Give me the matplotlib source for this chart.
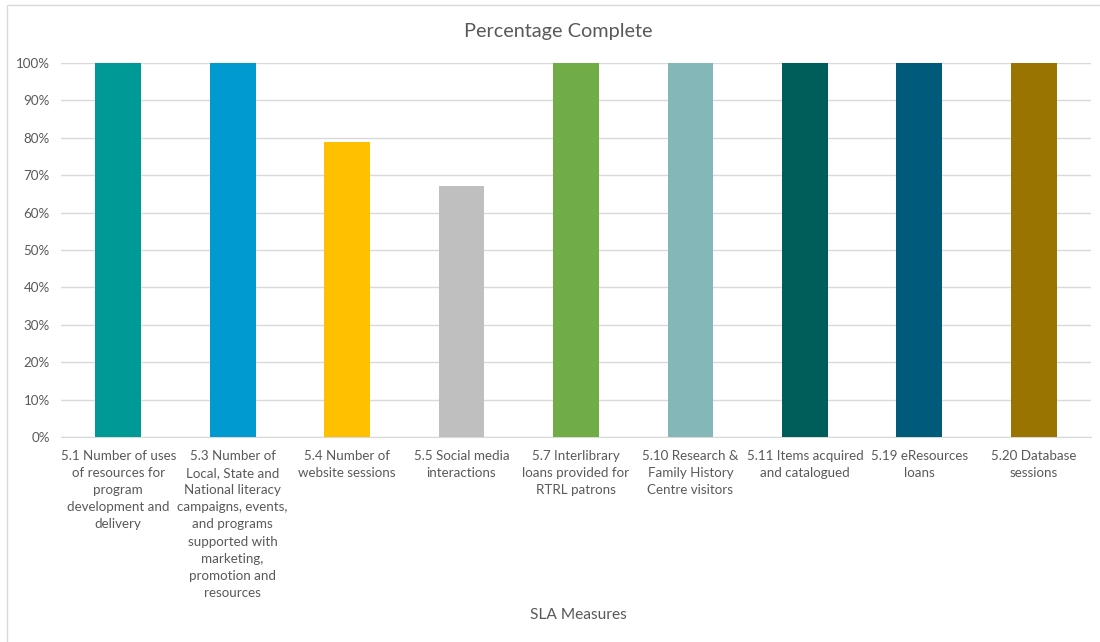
import matplotlib.pyplot as plt
import matplotlib.patches as mpatches
from matplotlib.ticker import PercentFormatter

# SLA measures and percentage complete
labels = [
    "5.1 Number of uses\nof resources for\nprogram\ndevelopment and\ndelivery",
    "5.3 Number of\nLocal, State and\nNational literacy\ncampaigns, events,\nand programs\nsupported with\nmarketing,\npromotion and\nresources",
    "5.4 Number of\nwebsite sessions",
    "5.5 Social media\ninteractions",
    "5.7 Interlibrary\nloans provided for\nRTRL patrons",
    "5.10 Research &\nFamily History\nCentre visitors",
    "5.11 Items acquired\nand catalogued",
    "5.19 eResources\nloans",
    "5.20 Database\nsessions",
]
values = [1.00, 1.00, 0.79, 0.67, 1.00, 1.00, 1.00, 1.00, 1.00]
colors = ["#009a96", "#009ad0", "#ffc000", "#bfbfbf", "#70ad47",
          "#84b8b8", "#005e5a", "#005a7a", "#9a7400"]

plt.rcParams['font.family'] = ['Lato', 'DejaVu Sans']
txt = '#595959'

fig = plt.figure(figsize=(11, 6.42), dpi=100)
ax = fig.add_axes([61/1100, 1-437/642, 1030/1100, 374/642])

# light frame around the chart
fig.patches.append(mpatches.Rectangle((7/1100, -0.01), 1.0, 1-5/642+0.01,
                                      transform=fig.transFigure, fill=False,
                                      edgecolor='#d9d9d9', linewidth=1))

x = range(len(values))
ax.bar(x, values, width=0.4, color=colors, zorder=3)
ax.set_xlim(-0.5, len(values) - 0.5)
ax.set_ylim(0, 1.0)
ax.set_yticks([i / 10 for i in range(11)])
ax.yaxis.set_major_formatter(PercentFormatter(1.0, decimals=0))
ax.grid(axis='y', color='#d9d9d9', linewidth=1, zorder=0)
ax.set_xticks(list(x))
ax.set_xticklabels(labels, fontsize=9.6, color=txt, linespacing=1.52, va='top')
ax.tick_params(axis='both', length=0, colors=txt, labelsize=9.6)
ax.tick_params(axis='x', pad=9)
ax.tick_params(axis='y', pad=8)
for s in ax.spines.values():
    s.set_visible(False)
ax.spines['bottom'].set_visible(True)
ax.spines['bottom'].set_color('#d9d9d9')

fig.text(558/1100, 1-32/642, 'Percentage Complete', ha='center', va='center',
         fontsize=14.3, color=txt)
fig.text(578/1100, 1-615/642, 'SLA Measures', ha='center', va='center',
         fontsize=11.2, color=txt)

fig.savefig('out.png', dpi=100)
